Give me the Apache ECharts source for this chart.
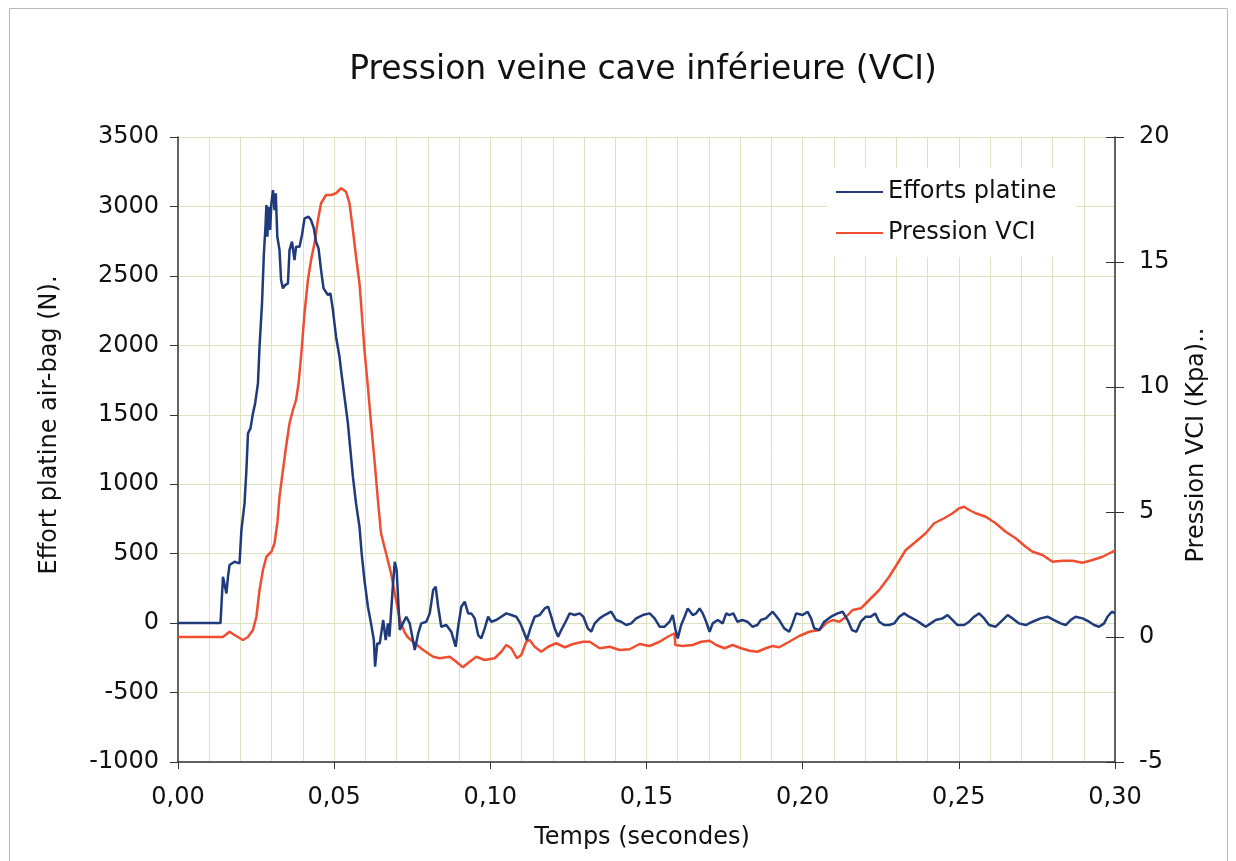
<!DOCTYPE html>
<html>
<head>
<meta charset="utf-8">
<script src="https://cdn.jsdelivr.net/npm/echarts@6/dist/echarts.min.js"></script>
<style>
html,body{margin:0;padding:0;background:#fff;}
#chart{width:1236px;height:861px;}
</style>
</head>
<body>
<div id="chart"></div>
<script>
const chartTitle = 'Pression veine cave inférieure (VCI)';
const xName = 'Temps (secondes)';
const yLeftName = 'Effort platine air-bag (N).';
const yRightName = 'Pression VCI (Kpa)..';
const seriesNames = ['Efforts platine', 'Pression VCI'];

// Efforts platine (N) vs time (s)
const effortT = [0,0.0136,0.0144,0.0155,0.0160,0.0165,0.0181,0.0197,0.0203,0.0213,0.0219,0.0224,0.0232,0.0240,0.0247,0.0256,0.0261,0.0269,0.0275,0.0280,0.0283,0.0286,0.0290,0.0295,0.0299,0.0304,0.0309,0.0313,0.0318,0.0325,0.0330,0.0336,0.0343,0.0352,0.0357,0.0365,0.0373,0.0378,0.0389,0.0397,0.0405,0.0418,0.0426,0.0435,0.0442,0.0450,0.0458,0.0466,0.0480,0.0488,0.0496,0.0506,0.0517,0.0522,0.0533,0.0544,0.0552,0.0560,0.0570,0.0581,0.0588,0.0597,0.0608,0.0618,0.0627,0.0631,0.0638,0.0646,0.0657,0.0665,0.0672,0.0677,0.0687,0.0694,0.0700,0.0710,0.0720,0.0731,0.0742,0.0758,0.0769,0.0779,0.0795,0.0806,0.0817,0.0825,0.0833,0.0843,0.0859,0.0875,0.0889,0.0897,0.0907,0.0918,0.0929,0.0939,0.0950,0.0961,0.0971,0.0982,0.0993,0.1003,0.1019,0.1035,0.1051,0.1067,0.1083,0.1096,0.1107,0.1117,0.1128,0.1142,0.1158,0.1174,0.1185,0.1195,0.1206,0.1217,0.1227,0.1241,0.1254,0.1270,0.1286,0.1298,0.1312,0.1323,0.1334,0.1350,0.1366,0.1387,0.1403,0.1419,0.1435,0.1451,0.1467,0.1488,0.1510,0.1526,0.1542,0.1558,0.1574,0.1584,0.1593,0.1600,0.1611,0.1622,0.1632,0.1648,0.1659,0.1670,0.1680,0.1691,0.1702,0.1712,0.1728,0.1744,0.1755,0.1765,0.1778,0.1791,0.1807,0.1823,0.1839,0.1855,0.1866,0.1882,0.1904,0.1925,0.1941,0.1957,0.1968,0.1979,0.2000,0.2016,0.2027,0.2037,0.2053,0.2069,0.2091,0.2112,0.2128,0.2144,0.2158,0.2172,0.2186,0.2202,0.2218,0.2232,0.2245,0.2261,0.2277,0.2293,0.2309,0.2325,0.2341,0.2362,0.2378,0.2394,0.2410,0.2426,0.2448,0.2464,0.2480,0.2496,0.2517,0.2533,0.2549,0.2565,0.2581,0.2597,0.2618,0.2640,0.2656,0.2672,0.2693,0.2714,0.2736,0.2762,0.2784,0.2805,0.2826,0.2842,0.2858,0.2874,0.2896,0.2917,0.2933,0.2949,0.2965,0.2976,0.2990,0.3000];
const effortN = [0,0,334,214,334,418,442,430,670,862,1102,1366,1402,1510,1582,1726,1990,2302,2662,2854,3010,2782,2998,2830,3022,3118,2974,3094,2782,2686,2470,2410,2434,2446,2686,2746,2614,2710,2710,2794,2914,2926,2902,2842,2746,2698,2542,2410,2362,2374,2254,2062,1918,1822,1630,1438,1246,1054,862,694,502,310,118,-2,-122,-314,-146,-146,22,-122,-2,-98,238,442,382,-50,-2,46,-2,-194,-74,-2,10,70,238,262,118,-26,-14,-62,-170,-26,118,154,70,70,34,-86,-110,-38,46,10,22,46,70,58,46,-2,-62,-122,-38,46,58,106,118,46,-38,-98,-50,10,70,58,70,46,-38,-62,-2,34,58,82,22,10,-14,-2,34,58,70,34,-26,-26,10,58,-50,-110,-14,46,106,58,70,106,70,10,-62,-2,22,-2,70,58,70,10,22,10,-26,-14,22,34,82,22,-38,-62,-2,70,58,82,34,-38,-50,10,46,70,82,22,-50,-62,10,46,46,70,10,-14,-14,-2,46,70,46,22,-2,-26,-2,22,34,58,22,-14,-14,10,46,70,34,-14,-26,22,58,34,-2,-14,10,34,46,22,-2,-14,22,46,34,10,-14,-26,-2,46,82,70];

// Pression VCI (kPa) vs time (s)
const pressionT = [0,0.0144,0.0165,0.0181,0.0208,0.0224,0.0240,0.0251,0.0261,0.0272,0.0283,0.0299,0.0309,0.0318,0.0325,0.0336,0.0346,0.0357,0.0368,0.0378,0.0386,0.0394,0.0405,0.0416,0.0426,0.0437,0.0448,0.0458,0.0474,0.0490,0.0506,0.0522,0.0538,0.0549,0.0560,0.0570,0.0581,0.0586,0.0597,0.0608,0.0618,0.0629,0.0640,0.0650,0.0666,0.0682,0.0698,0.0710,0.0725,0.0735,0.0758,0.0785,0.0817,0.0838,0.0870,0.0891,0.0912,0.0934,0.0955,0.0982,0.1014,0.1035,0.1051,0.1067,0.1085,0.1099,0.1115,0.1126,0.1142,0.1163,0.1185,0.1211,0.1238,0.1265,0.1297,0.1318,0.1350,0.1382,0.1414,0.1446,0.1478,0.1510,0.1542,0.1568,0.1590,0.1592,0.1616,0.1648,0.1675,0.1702,0.1723,0.1750,0.1776,0.1803,0.1830,0.1855,0.1882,0.1904,0.1925,0.1957,0.1989,0.2021,0.2053,0.2075,0.2096,0.2117,0.2139,0.2160,0.2187,0.2213,0.2245,0.2277,0.2304,0.2330,0.2362,0.2394,0.2421,0.2453,0.2480,0.2501,0.2517,0.2533,0.2554,0.2586,0.2618,0.2650,0.2682,0.2714,0.2736,0.2768,0.2800,0.2832,0.2864,0.2896,0.2928,0.2960,0.2992,0.3000];
const pressionKpa = [0,0,0.21,0.08,-0.12,0.0,0.28,0.81,1.88,2.68,3.21,3.41,3.75,4.55,5.61,6.68,7.61,8.55,9.08,9.48,10.15,11.21,12.95,14.28,15.08,15.75,16.68,17.35,17.68,17.68,17.75,17.95,17.81,17.35,16.28,15.21,14.15,13.35,11.48,10.01,8.55,7.08,5.48,4.15,3.35,2.55,1.48,0.7,0.2,0.0,-0.25,-0.52,-0.79,-0.85,-0.79,-0.99,-1.21,-0.99,-0.79,-0.92,-0.85,-0.59,-0.32,-0.45,-0.85,-0.72,-0.19,-0.12,-0.39,-0.59,-0.39,-0.25,-0.41,-0.28,-0.19,-0.19,-0.45,-0.39,-0.52,-0.49,-0.28,-0.36,-0.19,0.01,0.15,-0.32,-0.36,-0.32,-0.19,-0.15,-0.32,-0.45,-0.32,-0.45,-0.55,-0.59,-0.45,-0.36,-0.41,-0.19,0.04,0.21,0.28,0.55,0.68,0.61,0.81,1.08,1.15,1.48,1.88,2.41,2.95,3.48,3.81,4.15,4.55,4.75,4.95,5.15,5.21,5.08,4.95,4.81,4.55,4.21,3.95,3.61,3.41,3.28,3.01,3.05,3.05,2.97,3.08,3.21,3.41,3.45];

const xTicks = {min: 0, max: 0.30, interval: 0.05};
const yLeftTicks = {min: -1000, max: 3500, interval: 500};
const yRightTicks = {min: -5, max: 20, interval: 5};

const FONT = 'DejaVu Sans';
const effortData = effortT.map((t, i) => [t, effortN[i]]);
const pressionData = pressionT.map((t, i) => [t, pressionKpa[i]]);

const chart = echarts.init(document.getElementById('chart'), null, {renderer: 'canvas'});
const gridColor = '#dfe2bf';
chart.setOption({
  animation: false,
  backgroundColor: '#ffffff',
  grid: {left: 178, right: 121, top: 137, bottom: 99, containLabel: false},
  legend: {
    orient: 'vertical',
    left: 827, top: 168,
    backgroundColor: '#ffffff',
    padding: [12, 20, 12, 9],
    itemWidth: 47, itemHeight: 2, itemGap: 17,
    icon: 'rect',
    textStyle: {fontFamily: FONT, fontSize: 24, color: '#111', lineHeight: 24},
    data: seriesNames
  },
  xAxis: {
    type: 'value',
    min: xTicks.min, max: xTicks.max, interval: xTicks.interval,
    axisLine: {show: true, onZero: false, lineStyle: {color: '#333', width: 1.5}},
    axisTick: {show: true, inside: false, length: 7, lineStyle: {color: '#333'}},
    minorTick: {show: false, splitNumber: 5},
    splitLine: {show: true, lineStyle: {color: gridColor, width: 1}},
    minorSplitLine: {show: true, lineStyle: {color: gridColor, width: 1}},
    axisLabel: {
      margin: 24, fontFamily: FONT, fontSize: 24, color: '#111',
      formatter: v => v.toFixed(2).replace('.', ',')
    }
  },
  yAxis: [
    {
      type: 'value', position: 'left',
      min: yLeftTicks.min, max: yLeftTicks.max, interval: yLeftTicks.interval,
      axisLine: {show: true, lineStyle: {color: '#333', width: 1.5}},
      axisTick: {show: true, inside: false, length: 8, lineStyle: {color: '#333'}},
      splitLine: {show: true, lineStyle: {color: gridColor, width: 1}},
      axisLabel: {margin: 19, fontFamily: FONT, fontSize: 24, color: '#111',
                  formatter: v => String(v)}
    },
    {
      type: 'value', position: 'right',
      min: yRightTicks.min, max: yRightTicks.max, interval: yRightTicks.interval,
      axisLine: {show: true, lineStyle: {color: '#333', width: 1.5}},
      axisTick: {show: true, inside: false, length: 9, lineStyle: {color: '#333'}},
      splitLine: {show: false},
      axisLabel: {margin: 24, fontFamily: FONT, fontSize: 24, color: '#111',
                  formatter: v => String(v)}
    },
    {
      type: 'value', position: 'right',
      min: yRightTicks.min, max: yRightTicks.max, interval: yRightTicks.interval,
      axisLine: {show: false},
      axisTick: {show: true, inside: true, length: 9, lineStyle: {color: '#333'}},
      splitLine: {show: false},
      axisLabel: {show: false}
    }
  ],
  series: [
    {
      name: seriesNames[0], type: 'line', xAxisIndex: 0, yAxisIndex: 0,
      data: effortData, symbol: 'none', showSymbol: false,
      lineStyle: {color: '#1f3b7c', width: 2.5}, itemStyle: {color: '#1f3b7c'},
      z: 3
    },
    {
      name: seriesNames[1], type: 'line', xAxisIndex: 0, yAxisIndex: 1,
      data: pressionData, symbol: 'none', showSymbol: false,
      lineStyle: {color: '#f04e30', width: 2.5}, itemStyle: {color: '#f04e30'},
      z: 2
    }
  ],
  graphic: [
    {type: 'rect', silent: true, z: -10,
     shape: {x: 9.5, y: 8.5, width: 1218, height: 880},
     style: {fill: 'none', stroke: '#b8b8b8', lineWidth: 1}},
    {type: 'text', x: 643, y: 70,
     style: {text: chartTitle, font: '33px "DejaVu Sans"', fill: '#111', textAlign: 'center', textVerticalAlign: 'middle'}},
    {type: 'text', x: 642, y: 838,
     style: {text: xName, font: '24px "DejaVu Sans"', fill: '#111', textAlign: 'center', textVerticalAlign: 'middle'}},
    {type: 'text', x: 50, y: 425, rotation: Math.PI / 2,
     style: {text: yLeftName, font: '24px "DejaVu Sans"', fill: '#111', textAlign: 'center', textVerticalAlign: 'middle'}},
    {type: 'text', x: 1197, y: 445, rotation: Math.PI / 2,
     style: {text: yRightName, font: '24px "DejaVu Sans"', fill: '#111', textAlign: 'center', textVerticalAlign: 'middle'}}
  ]
});
</script>
</body>
</html>
